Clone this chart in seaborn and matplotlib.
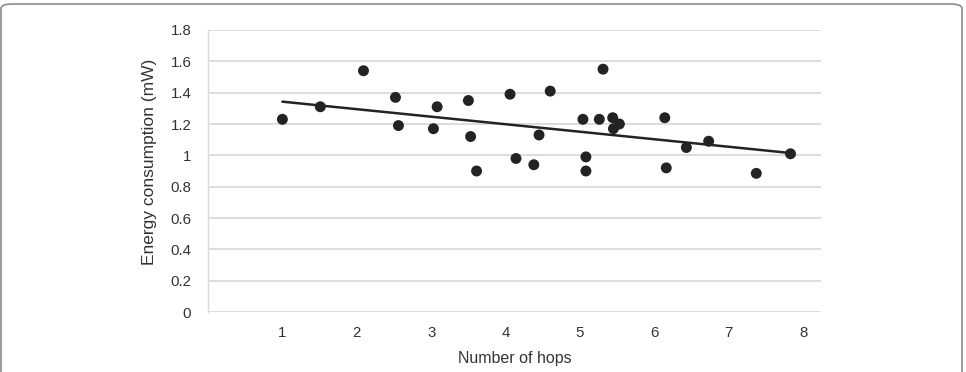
import matplotlib
matplotlib.use("Agg")
import matplotlib.pyplot as plt
import seaborn as sns
import pandas as pd
from matplotlib.patches import FancyBboxPatch

hops = [1.0, 1.51, 2.09, 2.52, 2.56, 3.03, 3.08, 3.50, 3.53, 3.61,
        4.06, 4.14, 4.38, 4.45, 4.60, 5.04, 5.08, 5.08, 5.26, 5.31,
        5.44, 5.45, 5.53, 6.14, 6.16, 6.43, 6.73, 7.37, 7.83]
energy = [1.23, 1.31, 1.54, 1.37, 1.19, 1.17, 1.31, 1.35, 1.12, 0.90,
          1.39, 0.98, 0.94, 1.13, 1.41, 1.23, 0.99, 0.90, 1.23, 1.55,
          1.24, 1.17, 1.20, 1.24, 0.92, 1.05, 1.09, 0.885, 1.01]
x_ticks = [1, 2, 3, 4, 5, 6, 7, 8]
y_ticks = [0, 0.2, 0.4, 0.6, 0.8, 1.0, 1.2, 1.4, 1.6, 1.8]
y_tick_labels = ["0", "0.2", "0.4", "0.6", "0.8", "1", "1.2", "1.4", "1.6", "1.8"]

df = pd.DataFrame({"hops": hops, "energy": energy})

sns.set_style("white")
plt.rcParams["font.family"] = ["Liberation Sans", "DejaVu Sans"]

fig = plt.figure(figsize=(9.66, 3.72), dpi=100)
ax = fig.add_axes([208 / 966, 1 - 312 / 372, (821 - 208) / 966, (312 - 30) / 372])

sns.regplot(data=df, x="hops", y="energy", ax=ax, ci=None,
            scatter_kws=dict(s=62, color="#232323", edgecolor="none", alpha=1, zorder=3),
            line_kws=dict(color="#232323", lw=1.8, alpha=1, zorder=2))

ax.set_xlim(0, 8.24)
ax.set_ylim(0, 1.8)
ax.set_xticks(x_ticks)
ax.set_xticklabels([str(t) for t in x_ticks])
ax.set_yticks(y_ticks)
ax.set_yticklabels(y_tick_labels)
ax.tick_params(axis="both", length=0, labelsize=10.8, colors="#333333")
ax.tick_params(axis="x", pad=10)
ax.tick_params(axis="y", pad=12)
ax.yaxis.grid(True, color="#d9d9d9", lw=1.3)
ax.set_axisbelow(True)
for s in ["top", "right", "bottom"]:
    ax.spines[s].set_visible(False)
ax.spines["left"].set_color("#d9d9d9")
ax.spines["left"].set_linewidth(1.0)

ax.set_xlabel("Number of hops", fontsize=11.5, color="#333333", labelpad=8)
ax.set_ylabel("Energy consumption (mW)", fontsize=12.5, color="#333333")
ax.yaxis.set_label_coords(-0.084, 0.534)

border = FancyBboxPatch((1 / 966, -40 / 372), 961 / 966, (372 - 4 + 40) / 372,
                        boxstyle="round,pad=0,rounding_size=0.012",
                        transform=fig.transFigure, fill=False,
                        edgecolor="#8c8c8c", lw=1.2, clip_on=False)
fig.patches.append(border)

fig.savefig("out.png", dpi=100)
